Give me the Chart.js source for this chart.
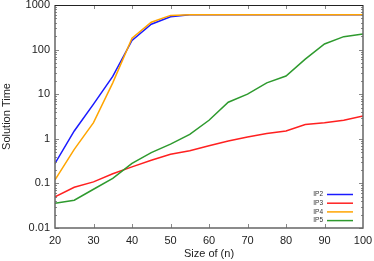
<!DOCTYPE html>
<html>
<head>
<meta charset="utf-8">
<script src="https://cdn.jsdelivr.net/npm/chart.js@4"></script>
<style>
  html, body { margin: 0; padding: 0; background: #fff; }
  #wrap { width: 374px; height: 261px; }
</style>
</head>
<body>
<div id="wrap"><canvas id="solChart" width="374" height="261"></canvas></div>
<script>
const sizes = [20, 25, 30, 35, 40, 45, 50, 55, 60, 65, 70, 75, 80, 85, 90, 95, 100];
const ip2 = [0.28, 1.5, 6.0, 25, 160, 370, 545, 605, 605, 605, 605, 605, 605, 605, 605, 605, 605];
const ip3 = [0.05, 0.082, 0.108, 0.165, 0.235, 0.33, 0.45, 0.54, 0.70, 0.89, 1.1, 1.32, 1.5, 2.1, 2.3, 2.6, 3.25];
const ip4 = [0.12, 0.58, 2.3, 18, 180, 410, 585, 605, 605, 605, 605, 605, 605, 605, 605, 605, 605];
const ip5 = [0.036, 0.042, 0.074, 0.13, 0.28, 0.49, 0.76, 1.25, 2.6, 6.6, 10, 18, 25.5, 61, 134, 195, 225];
const yTickLabels = [0.01, 0.1, 1, 10, 100, 1000];
const seriesNames = ['IP2', 'IP3', 'IP4', 'IP5'];
const seriesColors = ['#1a1aff', '#ff2020', '#ffa500', '#2e9a2e'];
// gnuplot draws later series on top
const drawOrder = [3, 2, 1, 0];

const font = "'Liberation Sans', Arial, sans-serif";

function pts(vals) {
    return sizes.map((s, i) => ({ x: s, y: vals[i] }));
}

// frame, inward ticks and the small legend, gnuplot style
const framePlugin = {
    id: 'frame',
    afterDraw(chart) {
        const c = chart.ctx, a = chart.chartArea;
        const xs = chart.scales.x, ys = chart.scales.y;
        c.save();
        c.strokeStyle = '#888';
        c.lineWidth = 1;
        c.beginPath();
        // x ticks bottom + top
        for (let v = 30; v <= 90; v += 10) {
            const px = Math.round(xs.getPixelForValue(v)) + 0.5;
            c.moveTo(px, a.bottom); c.lineTo(px, a.bottom - 4);
            c.moveTo(px, a.top); c.lineTo(px, a.top + 4);
        }
        // y ticks major + minor, left + right
        for (let d = -2; d <= 2; d++) {
            for (let m = 1; m <= 9; m++) {
                const v = m * Math.pow(10, d);
                const py = Math.round(ys.getPixelForValue(v)) + 0.5;
                const len = m === 1 ? 4 : 2;
                c.moveTo(a.left, py); c.lineTo(a.left + len, py);
                c.moveTo(a.right, py); c.lineTo(a.right - len, py);
            }
        }
        c.stroke();
        // frame
        c.strokeStyle = '#666';
        c.lineWidth = 1.5;
        c.beginPath();
        c.moveTo(a.left, a.top); c.lineTo(a.left, a.bottom); c.lineTo(a.right, a.bottom); c.lineTo(a.right, a.top);
        c.stroke();
        c.strokeStyle = '#222';
        c.lineWidth = 1;
        c.beginPath();
        c.moveTo(a.left, a.top + 0.5); c.lineTo(a.right, a.top + 0.5);
        c.stroke();
        // legend
        c.font = '6.5px ' + font;
        c.textAlign = 'right';
        c.textBaseline = 'middle';
        seriesNames.forEach((n, i) => {
            const y = 194.5 + i * 8.7;
            c.fillStyle = '#333';
            c.fillText(n, 323, y);
            c.strokeStyle = seriesColors[i];
            c.lineWidth = 1.5;
            c.beginPath();
            c.moveTo(327, y); c.lineTo(353, y);
            c.stroke();
        });
        c.restore();
    }
};

const ctx = document.getElementById('solChart').getContext('2d');
new Chart(ctx, {
    type: 'line',
    data: {
        datasets: [ip2, ip3, ip4, ip5].map((vals, i) => ({
            label: seriesNames[i],
            data: pts(vals),
            borderColor: seriesColors[i],
            backgroundColor: seriesColors[i],
            borderWidth: 1.5,
            pointRadius: 0,
            tension: 0,
            fill: false,
            order: drawOrder[i]
        }))
    },
    options: {
        responsive: false,
        animation: false,
        layout: { padding: { top: 5, right: 11, left: 0, bottom: 0 } },
        plugins: { legend: { display: false }, tooltip: { enabled: false } },
        scales: {
            x: {
                type: 'linear',
                min: 20, max: 100,
                grid: { display: false, drawTicks: false },
                border: { display: false },
                ticks: { stepSize: 10, color: '#222', font: { family: font, size: 11 }, padding: 6, maxRotation: 0 },
                title: { display: true, text: 'Size of (n)', color: '#222', font: { family: font, size: 11 }, padding: { top: 2, bottom: 0 } },
                afterFit: s => { s.height = 33; s.paddingLeft = 0; s.paddingRight = 0; }
            },
            y: {
                type: 'logarithmic',
                min: 0.01, max: 1000,
                grid: { display: false, drawTicks: false },
                border: { display: false },
                afterBuildTicks: s => { s.ticks = yTickLabels.map(v => ({ value: v })); },
                ticks: {
                    autoSkip: false,
                    color: '#222',
                    font: { family: font, size: 11 },
                    padding: 5,
                    callback: v => String(v)
                },
                title: { display: true, text: 'Solution Time', color: '#222', font: { family: font, size: 11 }, padding: { top: 0, bottom: 0 } },
                afterFit: s => { s.width = 55; s.paddingTop = 0; s.paddingBottom = 0; }
            }
        }
    },
    plugins: [framePlugin]
});
</script>
</body>
</html>
